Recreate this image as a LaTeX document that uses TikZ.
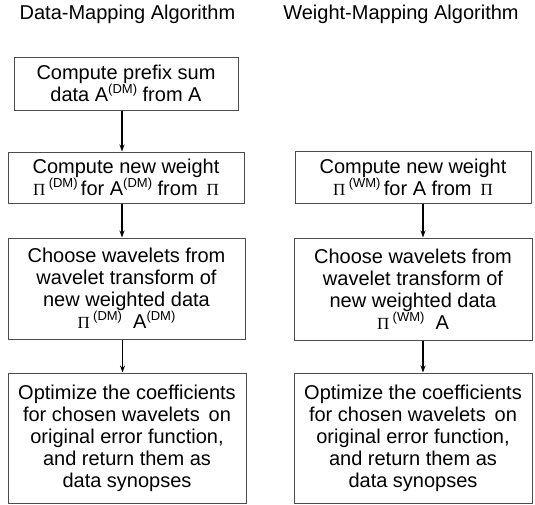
\documentclass[tikz,border=0pt]{standalone}
\usepackage{fontspec}
\setmainfont{Liberation Sans}
\newfontfamily\greekserif{Liberation Serif}
\usetikzlibrary{arrows.meta}

% serif capital Pi used for the weights
\newcommand\Pw{{\greekserif\fontsize{17}{17}\selectfont Π}}
% small parenthesised superscript tag
\newcommand\tagsup[1]{\raisebox{0.4em}{\fontsize{13}{13}\selectfont(#1)}}

\tikzset{
  stepbox/.style={draw=black!70, line width=1pt, inner sep=0pt, align=center,
    font=\fontsize{20}{22}\selectfont},
  title/.style={font=\fontsize{20}{22}\selectfont},
  arr/.style={-{Stealth[length=7pt,width=5pt]}, line width=1.2pt, black}
}

\begin{document}
\begin{tikzpicture}[x=1pt,y=-1pt]
\useasboundingbox (0,0) rectangle (535,504);

% column headings
\node[title] (tl) at (127.5,14) {Data-Mapping Algorithm};
\node[title] (tr) at (401,14) {Weight-Mapping Algorithm};

% data-mapping column
\node[stepbox, minimum width=224, minimum height=53] (l1) at (126,83.5)
  {Compute prefix sum\\data A\tagsup{DM} from A};
\node[stepbox, minimum width=236, minimum height=51] (l2) at (126,177.5)
  {Compute new weight\\\Pw\,\tagsup{DM}\,for A\tagsup{DM} from \,\Pw};
\node[stepbox, minimum width=237, minimum height=101] (l3) at (126.5,288.5)
  {Choose wavelets from\\wavelet transform of\\new weighted data\\\Pw\,\tagsup{DM}\; A\tagsup{DM}};
\node[stepbox, minimum width=238, minimum height=130] (l4) at (127,438)
  {Optimize the coefficients\\for chosen wavelets\, on\\original error function,\\and return them as\\data synopses};

% weight-mapping column
\node[stepbox, minimum width=236, minimum height=52] (r2) at (413,177)
  {Compute new weight\\\Pw\,\tagsup{WM}\,for A from \,\Pw};
\node[stepbox, minimum width=238, minimum height=102] (r3) at (413,289)
  {Choose wavelets from\\wavelet transform of\\new weighted data\\\Pw\,\tagsup{WM}\; A};
\node[stepbox, minimum width=238, minimum height=130] (r4) at (413,438)
  {Optimize the coefficients\\for chosen wavelets\, on\\original error function,\\and return them as\\data synopses};

% connectors
\draw[arr] ([xshift=-4pt]l1.south) -- ([xshift=-4pt]l1.south |- l2.north);
\draw[arr] ([xshift=-4pt]l2.south) -- ([xshift=-4pt]l2.south |- l3.north);
\draw[arr] ([xshift=-4pt]l3.south) -- ([xshift=-4pt]l3.south |- l4.north);
\draw[arr] ([xshift=10pt]r2.south) -- ([xshift=10pt]r2.south |- r3.north);
\draw[arr] ([xshift=10pt]r3.south) -- ([xshift=10pt]r3.south |- r4.north);
\end{tikzpicture}
\end{document}
